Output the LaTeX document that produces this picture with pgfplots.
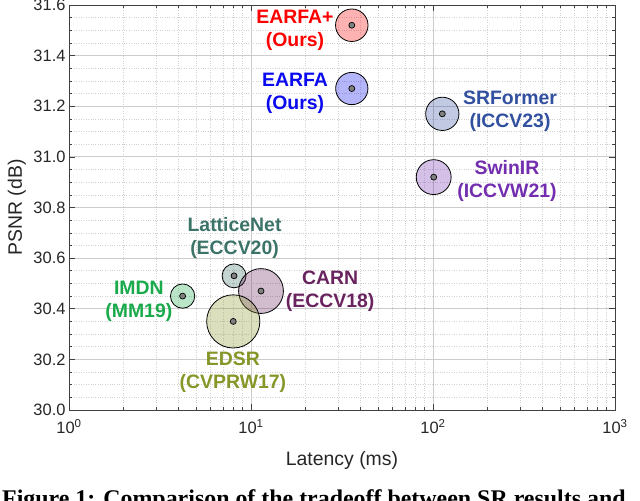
\documentclass[border=0pt]{standalone}
\usepackage{fontspec}
\setmainfont{Liberation Sans}
\newfontfamily\capfont{Liberation Serif}
\usepackage{pgfplots}
\pgfplotsset{compat=1.18}
\definecolor{cEp}{RGB}{255,0,0}
\definecolor{cE}{RGB}{10,10,240}
\definecolor{cSRF}{RGB}{50,80,160}
\definecolor{cSwin}{RGB}{115,45,175}
\definecolor{cLat}{RGB}{60,115,105}
\definecolor{cIMDN}{RGB}{25,170,75}
\definecolor{cCARN}{RGB}{105,35,95}
\definecolor{cEDSR}{RGB}{135,150,40}
\pgfplotsset{
  bubble/.style={only marks, mark=*, mark options={draw=black, line width=0.8bp, fill=#1, fill opacity=0.3}},
}
\begin{document}
\begin{tikzpicture}
\path[use as bounding box] (0,0) rectangle (640bp,501bp);
\begin{axis}[
  at={(69bp,91bp)}, anchor=south west,
  scale only axis, width=546bp, height=405bp,
  xmode=log, xmin=1, xmax=1000, ymin=30, ymax=31.6,
  xtick={1,10,100,1000},
  xticklabels={10\textsuperscript{0},10\textsuperscript{1},10\textsuperscript{2},10\textsuperscript{3}},
  minor xtick={2,3,4,5,6,7,8,9,20,30,40,50,60,70,80,90,200,300,400,500,600,700,800,900},
  ytick={30,30.2,30.4,30.6,30.8,31,31.2,31.4,31.6},
  yticklabels={30.0,30.2,30.4,30.6,30.8,31.0,31.2,31.4,31.6},
  minor y tick num=3,
  tick align=inside,
  major tick length=6bp, minor tick length=3bp,
  tick style={color=black!75, line width=0.6bp},
  axis line style={black!75, line width=0.8bp},
  grid=both,
  major grid style={black!20, line width=0.8bp},
  minor grid style={black!18, dotted, line width=0.6bp},
  ticklabel style={font=\fontsize{16.5}{16.5}\selectfont, text=black!85},
  xticklabel style={yshift=-6bp},
  xlabel={Latency (ms)}, ylabel={PSNR (dB)},
  label style={font=\fontsize{19.5}{19.5}\selectfont, text=black!85},
  xlabel style={at={(axis description cs:0.5,-0.1358)}, anchor=base},
  ylabel style={at={(axis description cs:-0.0861,0.5)}, anchor=base},
  clip=false,
]
\addplot[bubble=cEp, mark size=16.3] coordinates {(35.8,31.52)};
\addplot[bubble=cE, mark size=16.2] coordinates {(35.8,31.27)};
\addplot[bubble=cSRF, mark size=16.7] coordinates {(112.5,31.17)};
\addplot[bubble=cSwin, mark size=17.5] coordinates {(100.9,30.92)};
\addplot[bubble=cLat, mark size=12] coordinates {(8.07,30.53)};
\addplot[bubble=cIMDN, mark size=12.2] coordinates {(4.21,30.45)};
\addplot[bubble=cCARN, mark size=22.5] coordinates {(11.35,30.47)};
\addplot[bubble=cEDSR, mark size=26.7] coordinates {(7.99,30.35)};
\addplot[only marks, mark=*, mark size=3, mark options={draw=black, fill=black!50, line width=0.7bp}] coordinates {
 (35.8,31.52) (35.8,31.27) (112.5,31.17) (100.9,30.92) (8.07,30.53) (4.21,30.45) (11.35,30.47) (7.99,30.35)};
\begin{scope}[every node/.style={align=center, inner sep=0pt, font=\bfseries\fontsize{19.5}{23}\selectfont}]
\node[text=cEp] at (axis cs:17.45,31.50) {EARFA+\\(Ours)};
\node[text=cE] at (axis cs:17.45,31.25) {EARFA\\(Ours)};
\node[text=cSRF] at (axis cs:265,31.18) {SRFormer\\(ICCV23)};
\node[text=cSwin] at (axis cs:255,30.906) {SwinIR\\(ICCVW21)};
\node[text=cLat] at (axis cs:8.12,30.68) {LatticeNet\\(ECCV20)};
\node[text=cIMDN] at (axis cs:2.42,30.43) {IMDN\\(MM19)};
\node[text=cCARN] at (axis cs:27.2,30.47) {CARN\\(ECCV18)};
\node[text=cEDSR] at (axis cs:7.96,30.15) {EDSR\\(CVPRW17)};
\end{scope}
\end{axis}
\node[anchor=base west, inner sep=0pt, font=\capfont\bfseries\fontsize{24}{24}\selectfont] at (2bp,-5bp) {Figure 1: Comparison of the tradeoff between SR results and};
\end{tikzpicture}
\end{document}
